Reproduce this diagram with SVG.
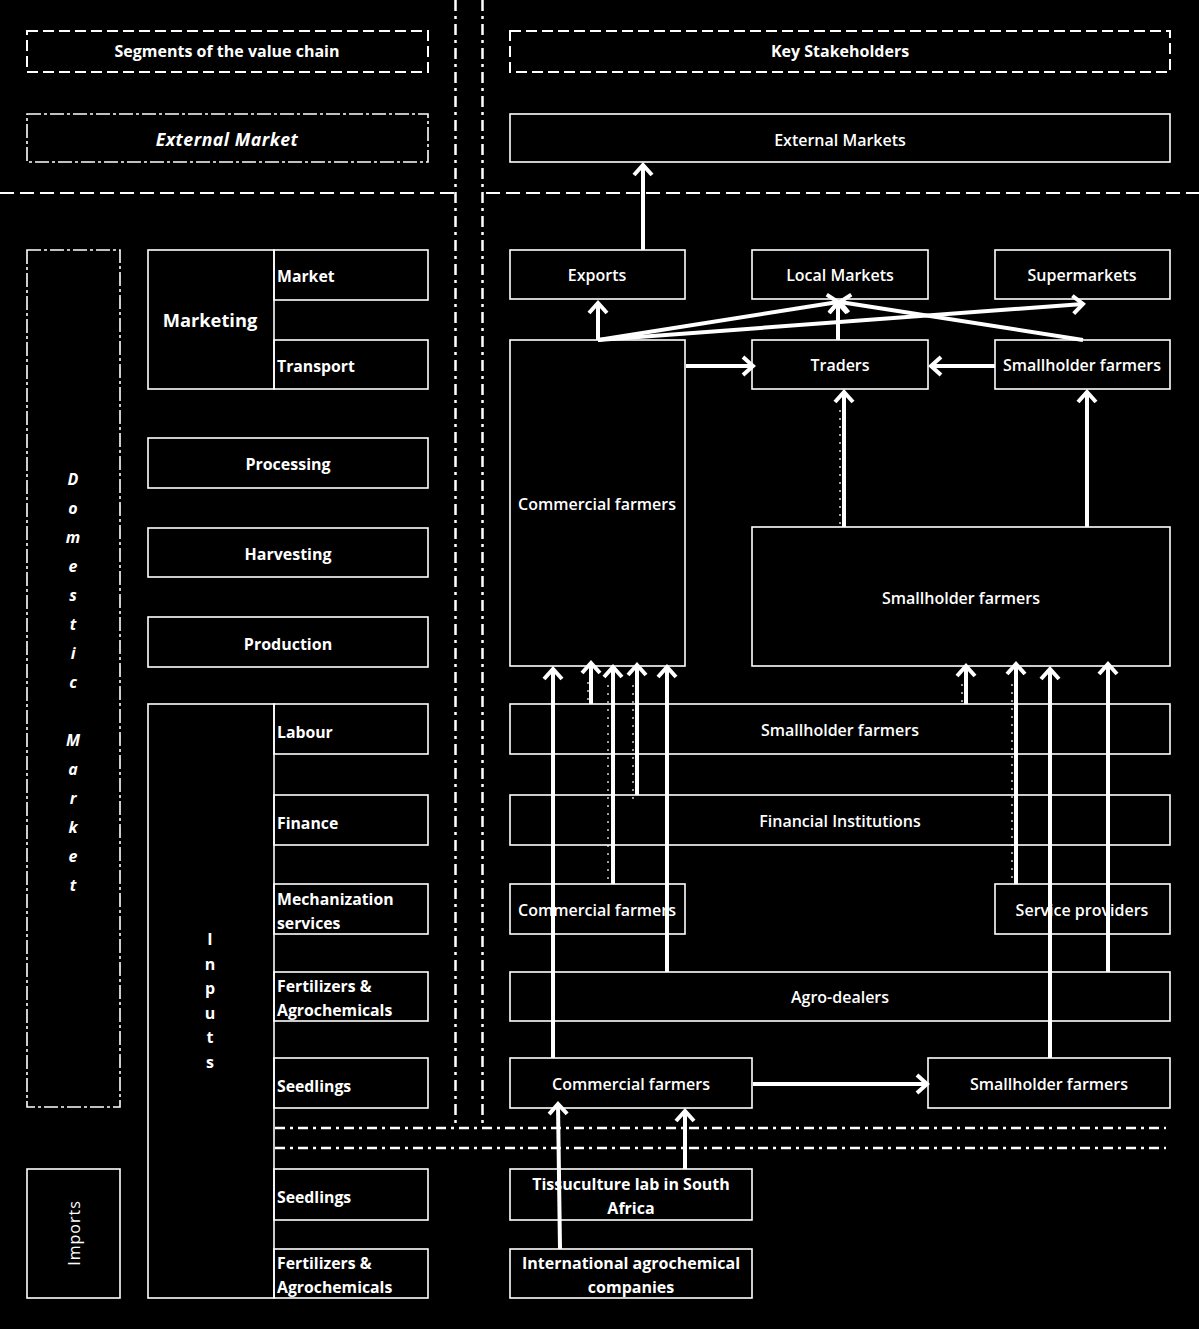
<svg xmlns="http://www.w3.org/2000/svg" width="1199" height="1329" viewBox="0 0 1199 1329">
<style>
.bg{fill:#000}
.box{fill:none;stroke:#fff;stroke-width:1.6}
.dbox{fill:none;stroke:#fff;stroke-width:2;stroke-dasharray:11 5}
.ddbox{fill:none;stroke:#fff;stroke-width:1.6;stroke-dasharray:14 3 3 3}
.vline{stroke:#fff;stroke-width:2.5;stroke-dasharray:11 5 3 5;fill:none}
.hline{stroke:#fff;stroke-width:2;stroke-dasharray:14 6;fill:none}
.hdd{stroke:#fff;stroke-width:2.5;stroke-dasharray:10 5 3 5;fill:none}
.t{font-family:"Open Sans",Lato,"DejaVu Sans",sans-serif;fill:#fff;font-size:16px;font-weight:600;text-anchor:middle}
.l{text-anchor:start;font-weight:bold;font-size:15.8px}
.b{font-weight:bold}
.bi{font-weight:bold;font-style:italic}
.arr{stroke:#fff;stroke-width:4;fill:none;marker-end:url(#ah)}
.dot{stroke:#fff;stroke-width:1.2;stroke-dasharray:2 6;fill:none}
</style>
<defs>
<marker id="ah" markerUnits="userSpaceOnUse" markerWidth="24" markerHeight="24" viewBox="-14 -12 16 24" refX="0" refY="0" orient="auto" overflow="visible">
<path d="M-10,-9 L0,0 L-10,9" fill="none" stroke="#fff" stroke-width="4"/>
</marker>
</defs>
<rect class="bg" x="0" y="0" width="1199" height="1329"/>

<g id="dividers">
<line class="vline" x1="455.5" y1="0" x2="455.5" y2="1124"/>
<line class="vline" x1="482.5" y1="0" x2="482.5" y2="1124"/>
<line class="hline" x1="0" y1="193" x2="455" y2="193"/>
<line class="hline" x1="486" y1="193" x2="1199" y2="193"/>
<line class="hdd" x1="275" y1="1128" x2="1166" y2="1128"/>
<line class="hdd" x1="275" y1="1148" x2="1166" y2="1148"/>
</g>

<g id="seg-title"><rect class="dbox" x="27" y="31" width="401" height="41"/><text class="t b" x="227" y="57">Segments of the value chain</text></g>
<g id="key-title"><rect class="dbox" x="510" y="31" width="660" height="41"/><text class="t b" x="840" y="57">Key Stakeholders</text></g>
<g id="ext-market"><rect class="ddbox" x="27" y="114" width="401" height="48"/><text class="t bi" x="227" y="146" style="font-size:17.7px" letter-spacing="0.5">External Market</text></g>
<g id="ext-markets"><rect class="box" x="510" y="114" width="660" height="48"/><text class="t" x="840" y="146">External Markets</text></g>

<g id="domestic"><rect class="ddbox" x="27" y="250" width="93" height="857"/>
<text class="t bi" x="73" y="485">D</text>
<text class="t bi" x="73" y="514">o</text>
<text class="t bi" x="73" y="543">m</text>
<text class="t bi" x="73" y="572">e</text>
<text class="t bi" x="73" y="601">s</text>
<text class="t bi" x="73" y="630">t</text>
<text class="t bi" x="73" y="659">i</text>
<text class="t bi" x="73" y="688">c</text>
<text class="t bi" x="73" y="746">M</text>
<text class="t bi" x="73" y="775">a</text>
<text class="t bi" x="73" y="804">r</text>
<text class="t bi" x="73" y="833">k</text>
<text class="t bi" x="73" y="862">e</text>
<text class="t bi" x="73" y="891">t</text>
</g>
<g id="imports"><rect class="box" x="27" y="1169" width="93" height="129"/><text class="t" style="font-weight:normal" letter-spacing="1" transform="translate(80 1233) rotate(-90)">Imports</text></g>

<g id="marketing"><rect class="box" x="148" y="250" width="126" height="139"/><text class="t b" x="210" y="327" style="font-size:18.3px">Marketing</text></g>
<g id="market"><rect class="box" x="274" y="250" width="154" height="50"/><text class="t l" x="277" y="282">Market</text></g>
<g id="transport"><rect class="box" x="274" y="340" width="154" height="49"/><text class="t l" x="277" y="372">Transport</text></g>
<g id="processing"><rect class="box" x="148" y="438" width="280" height="50"/><text class="t b" x="288" y="470">Processing</text></g>
<g id="harvesting"><rect class="box" x="148" y="528" width="280" height="49"/><text class="t b" x="288" y="560">Harvesting</text></g>
<g id="production"><rect class="box" x="148" y="617" width="280" height="50"/><text class="t b" x="288" y="650">Production</text></g>

<g id="inputs"><rect class="box" x="148" y="704" width="126" height="594"/>
<text class="t b" x="210" y="945">I</text>
<text class="t b" x="210" y="970">n</text>
<text class="t b" x="210" y="994">p</text>
<text class="t b" x="210" y="1019">u</text>
<text class="t b" x="210" y="1043">t</text>
<text class="t b" x="210" y="1068">s</text>
</g>
<g id="labour"><rect class="box" x="274" y="704" width="154" height="50"/><text class="t l" x="277" y="738">Labour</text></g>
<g id="finance"><rect class="box" x="274" y="795" width="154" height="50"/><text class="t l" x="277" y="829">Finance</text></g>
<g id="mechanization"><rect class="box" x="274" y="884" width="154" height="50"/><text class="t l" x="277" y="905">Mechanization</text><text class="t l" x="277" y="929">services</text></g>
<g id="fertilizers"><rect class="box" x="274" y="972" width="154" height="49"/><text class="t l" x="277" y="992">Fertilizers &amp;</text><text class="t l" x="277" y="1016">Agrochemicals</text></g>
<g id="seedlings"><rect class="box" x="274" y="1058" width="154" height="50"/><text class="t l" x="277" y="1092">Seedlings</text></g>
<g id="seedlings-imp"><rect class="box" x="274" y="1169" width="154" height="51"/><text class="t l" x="277" y="1203">Seedlings</text></g>
<g id="fertilizers-imp"><rect class="box" x="274" y="1249" width="154" height="49"/><text class="t l" x="277" y="1269">Fertilizers &amp;</text><text class="t l" x="277" y="1293">Agrochemicals</text></g>

<g id="exports"><rect class="box" x="510" y="250" width="175" height="49"/><text class="t" x="597" y="281">Exports</text></g>
<g id="local-markets"><rect class="box" x="752" y="250" width="176" height="49"/><text class="t" x="840" y="281">Local Markets</text></g>
<g id="supermarkets"><rect class="box" x="995" y="250" width="175" height="49"/><text class="t" x="1082" y="281">Supermarkets</text></g>
<g id="commercial-big"><rect class="box" x="510" y="340" width="175" height="326"/><text class="t" x="597" y="510">Commercial farmers</text></g>
<g id="traders"><rect class="box" x="752" y="340" width="176" height="49"/><text class="t" x="840" y="371">Traders</text></g>
<g id="smallholder-top"><rect class="box" x="995" y="340" width="175" height="49"/><text class="t" x="1082" y="371">Smallholder farmers</text></g>
<g id="smallholder-big"><rect class="box" x="752" y="527" width="418" height="139"/><text class="t" x="961" y="604">Smallholder farmers</text></g>
<g id="smallholder-labour"><rect class="box" x="510" y="704" width="660" height="50"/><text class="t" x="840" y="736">Smallholder farmers</text></g>
<g id="financial"><rect class="box" x="510" y="795" width="660" height="50"/><text class="t" x="840" y="827">Financial Institutions</text></g>
<g id="commercial-mech"><rect class="box" x="510" y="884" width="175" height="50"/><text class="t" x="597" y="916">Commercial farmers</text></g>
<g id="service"><rect class="box" x="995" y="884" width="175" height="50"/><text class="t" x="1082" y="916">Service providers</text></g>
<g id="agro"><rect class="box" x="510" y="972" width="660" height="49"/><text class="t" x="840" y="1003">Agro-dealers</text></g>
<g id="commercial-seed"><rect class="box" x="510" y="1058" width="242" height="50"/><text class="t" x="631" y="1090">Commercial farmers</text></g>
<g id="smallholder-seed"><rect class="box" x="928" y="1058" width="242" height="50"/><text class="t" x="1049" y="1090">Smallholder farmers</text></g>
<g id="tissue"><rect class="box" x="510" y="1169" width="242" height="51"/><text class="t b" x="631" y="1190">Tissuculture lab in South</text><text class="t b" x="631" y="1214">Africa</text></g>
<g id="intl"><rect class="box" x="510" y="1249" width="242" height="49"/><text class="t b" x="631" y="1269">International agrochemical</text><text class="t b" x="631" y="1293">companies</text></g>

<g id="connectors">
<line class="arr" x1="643" y1="250" x2="643" y2="165"/>
<line class="arr" x1="598" y1="340" x2="598" y2="303"/>
<line class="arr" x1="598" y1="340" x2="838" y2="302"/>
<line class="arr" x1="598" y1="340" x2="1083" y2="304"/>
<line class="arr" x1="1083" y1="340" x2="840" y2="302"/>
<line class="arr" x1="838" y1="340" x2="838" y2="303"/>
<line class="arr" x1="686" y1="366" x2="753" y2="366"/>
<line class="arr" x1="995" y1="366" x2="931" y2="366"/>
<line class="arr" x1="844" y1="527" x2="844" y2="392"/>
<line class="arr" x1="1087" y1="527" x2="1087" y2="392"/>
<line class="arr" x1="553" y1="1058" x2="553" y2="669"/>
<line class="arr" x1="591" y1="704" x2="591" y2="663"/>
<line class="arr" x1="613" y1="884" x2="613" y2="667"/>
<line class="arr" x1="637" y1="795" x2="637" y2="665"/>
<line class="arr" x1="667" y1="972" x2="667" y2="667"/>
<line class="arr" x1="966" y1="704" x2="966" y2="666"/>
<line class="arr" x1="1016" y1="884" x2="1016" y2="664"/>
<line class="arr" x1="1050" y1="1058" x2="1050" y2="669"/>
<line class="arr" x1="1108" y1="972" x2="1108" y2="664"/>
<line class="arr" x1="753" y1="1084" x2="927" y2="1084"/>
<line class="arr" x1="560" y1="1249" x2="558" y2="1104"/>
<line class="arr" x1="685" y1="1169" x2="685" y2="1111"/>
<line class="dot" x1="588" y1="682" x2="588" y2="705"/>
<line class="dot" x1="608" y1="685" x2="608" y2="884"/>
<line class="dot" x1="633" y1="685" x2="633" y2="800"/>
<line class="dot" x1="962" y1="684" x2="962" y2="708"/>
<line class="dot" x1="1012" y1="684" x2="1012" y2="884"/>
<line class="dot" x1="840" y1="410" x2="840" y2="528"/>
</g>
</svg>
